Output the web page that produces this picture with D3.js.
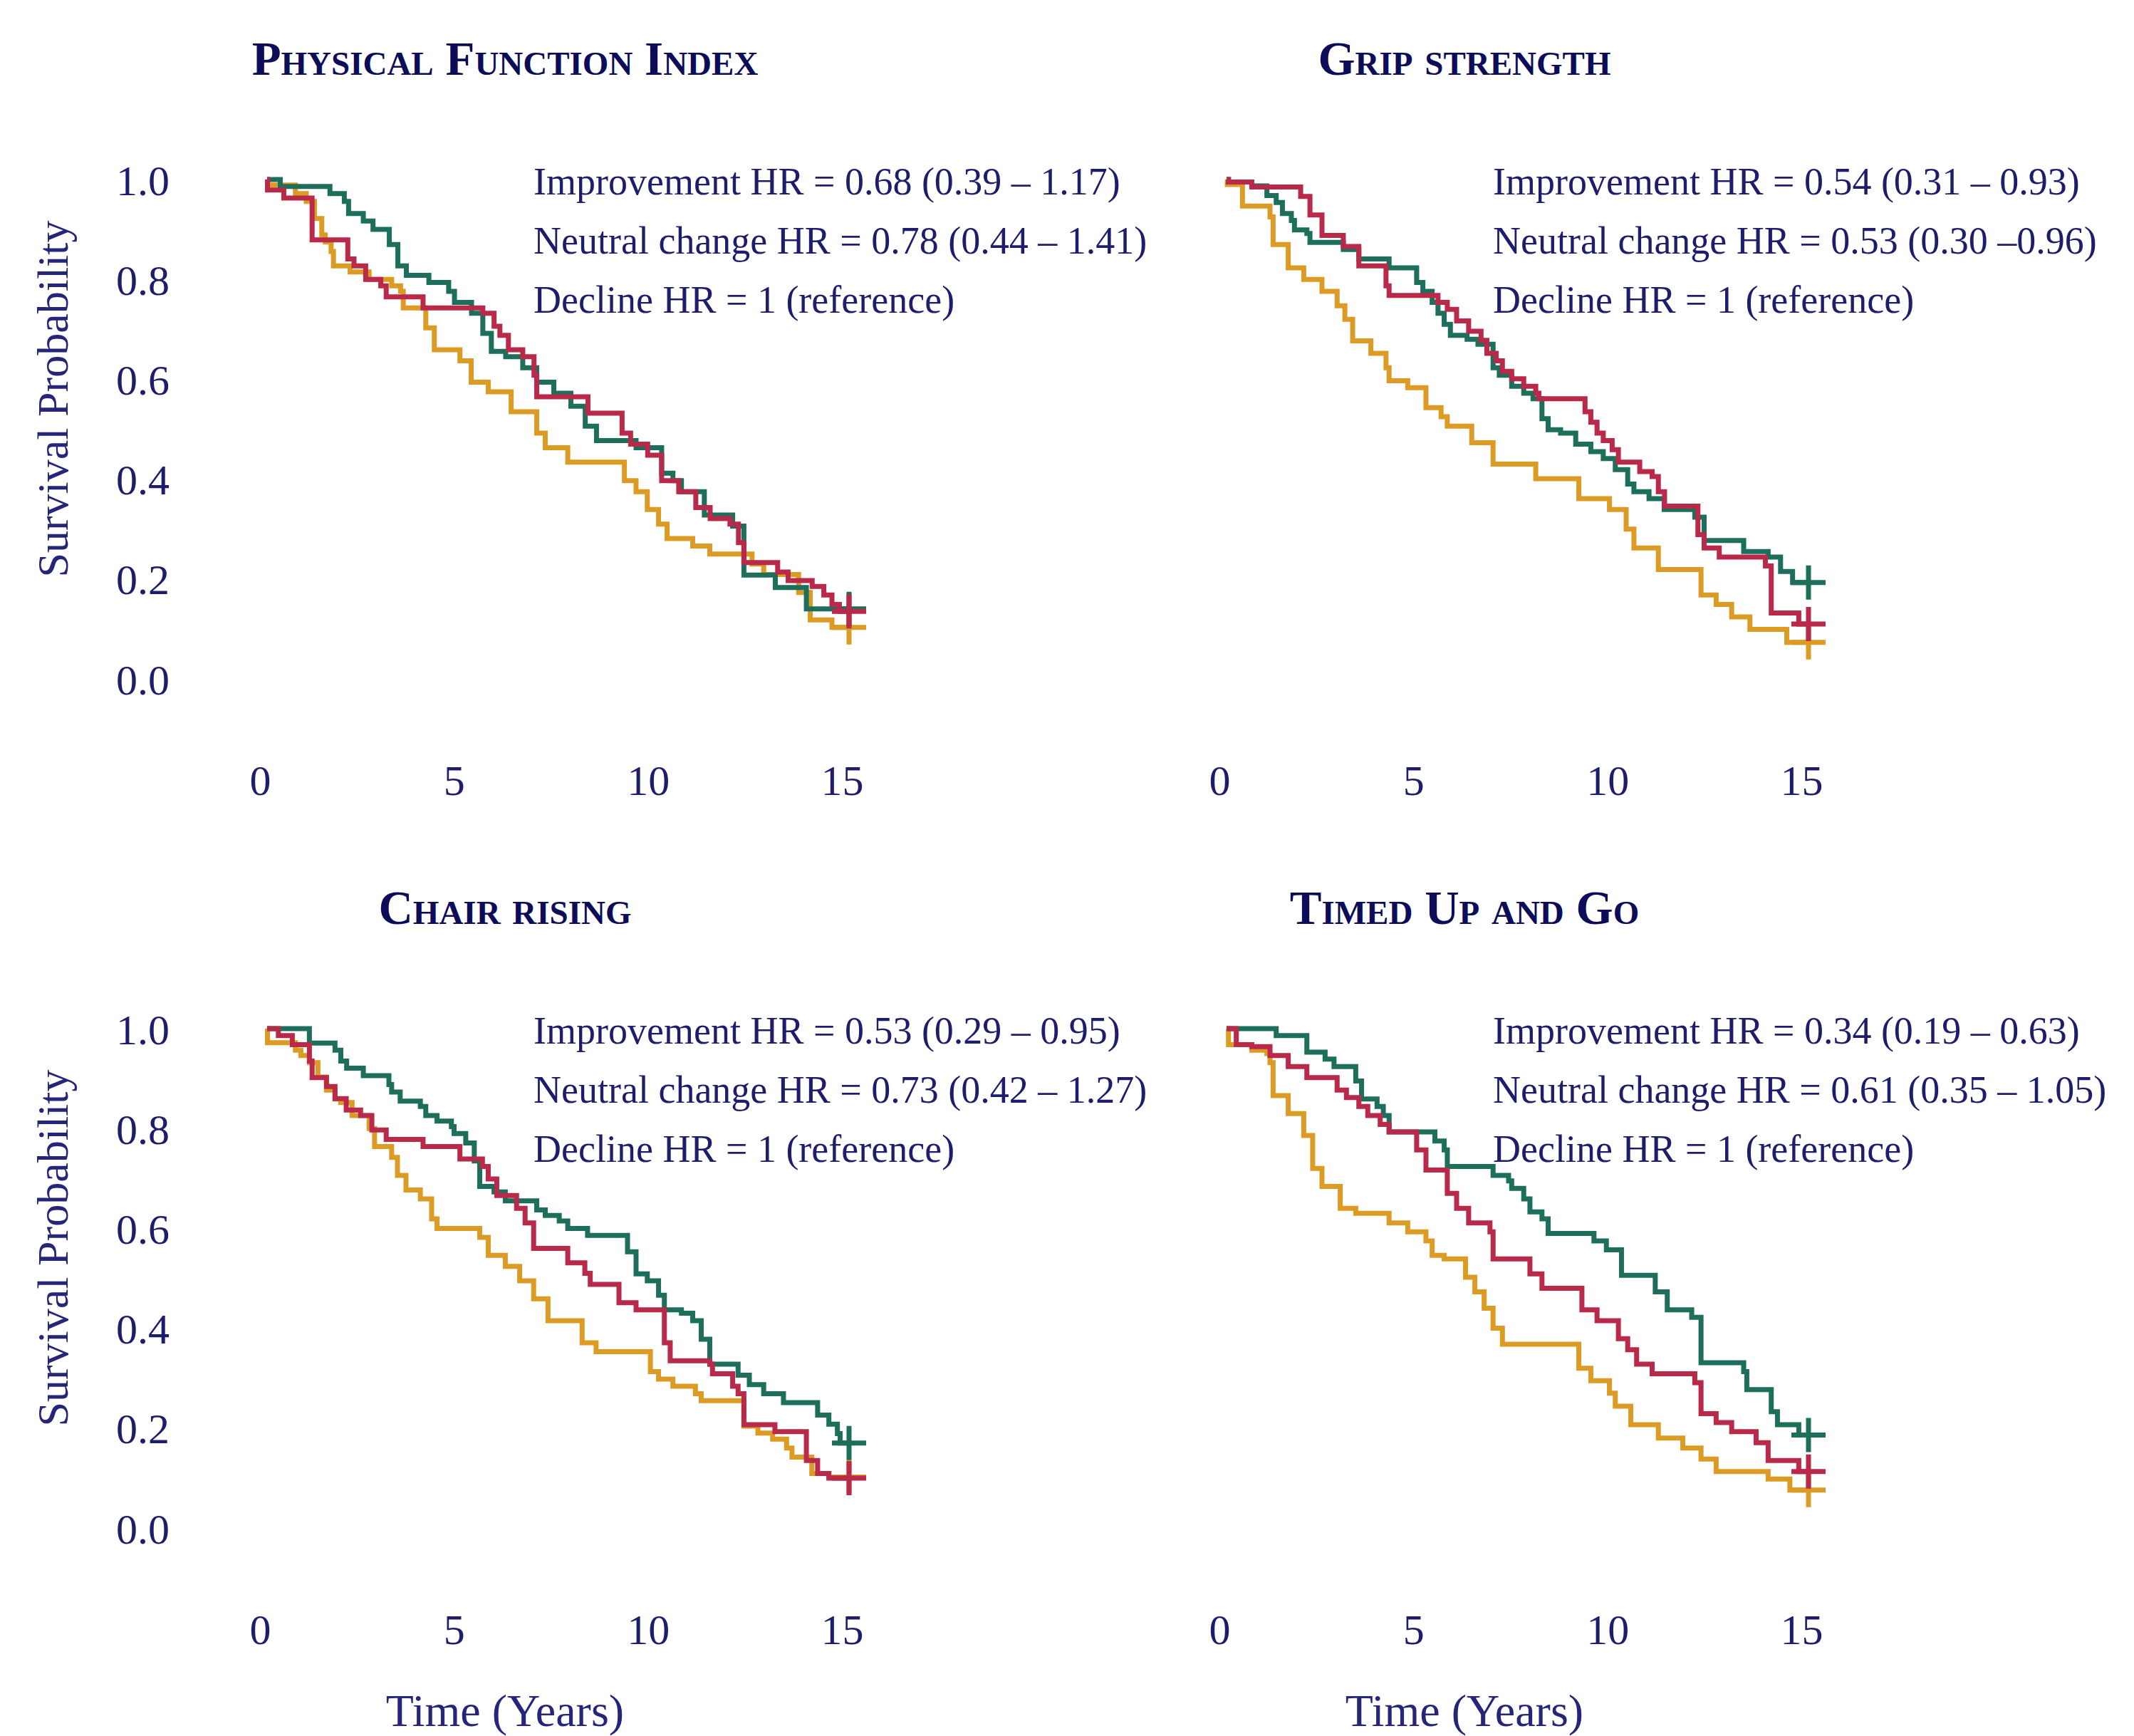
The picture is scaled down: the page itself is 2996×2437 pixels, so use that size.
<!DOCTYPE html>
<head>
<meta charset="utf-8">
<style>

body {
  margin: 0;
  background: #fff;
}

svg text {
  font-family: "Liberation Serif", "Times New Roman", serif;
}

svg .tick text {
  fill: #1d1d6b;
  font-size: 60px;
}

svg .curve {
  fill: none;
  stroke-width: 7px;
}

svg .title {
  font-weight: bold;
  font-variant: small-caps;
  font-size: 67px;
  fill: #0c0c58;
}

svg .hr {
  font-size: 54px;
  fill: #1d1d6b;
}

svg .axis-title {
  fill: #25257a;
}

</style>
</head>

<body>
<script src="https://cdn.jsdelivr.net/npm/d3@7"></script>

<script>
  // panels, left to right, top to bottom
  var panelTitles = ["Physical Function Index", "Grip strength", "Chair rising", "Timed Up and Go"];
  var panelCol = [0, 1, 0, 1];
  var panelRow = [0, 0, 1, 1];

  var groups = ["Improvement", "Neutral change", "Decline"];
  var groupColors = ["#1d6e5a", "#b8294a", "#dc9b24"];

  var hrLabels = [
    ["Improvement HR = 0.68 (0.39 – 1.17)", "Neutral change HR = 0.78 (0.44 – 1.41)", "Decline HR = 1 (reference)"],
    ["Improvement HR = 0.54 (0.31 – 0.93)", "Neutral change HR = 0.53 (0.30 –0.96)", "Decline HR = 1 (reference)"],
    ["Improvement HR = 0.53 (0.29 – 0.95)", "Neutral change HR = 0.73 (0.42 – 1.27)", "Decline HR = 1 (reference)"],
    ["Improvement HR = 0.34 (0.19 – 0.63)", "Neutral change HR = 0.61 (0.35 – 1.05)", "Decline HR = 1 (reference)"]
  ];

  var xTicks = [0, 5, 10, 15];
  var yTicks = [0, 0.2, 0.4, 0.6, 0.8, 1.0];

  // Kaplan-Meier steps [years, survival]
  var pfiImprove = [[0,1],[0.34,0.986],[1.62,0.972],[1.99,0.956],[2.1,0.932],[2.48,0.917],[2.73,0.9],[3.15,0.87],[3.37,0.827],[3.59,0.808],[4.17,0.794],[4.68,0.776],[4.83,0.754],[5.27,0.732],[5.56,0.692],[5.78,0.656],[6.15,0.645],[6.59,0.623],[6.95,0.594],[7.39,0.572],[7.83,0.546],[8.2,0.506],[8.49,0.477],[9.51,0.463],[10.17,0.412],[10.46,0.397],[10.68,0.375],[11.27,0.328],[12.0,0.306],[12.29,0.208],[13.1,0.183],[13.9,0.14],[15,0.14]];
  var pfiNeutral = [[0,1],[0.01,0.979],[0.43,0.963],[1.16,0.879],[2.08,0.841],[2.24,0.827],[2.54,0.8],[2.93,0.787],[3.07,0.765],[4.02,0.743],[5.56,0.732],[5.85,0.706],[6.0,0.688],[6.22,0.659],[6.59,0.645],[6.88,0.608],[6.95,0.565],[8.27,0.532],[9.15,0.492],[9.37,0.47],[9.81,0.448],[10.17,0.397],[10.61,0.375],[11.05,0.343],[11.42,0.321],[11.93,0.31],[12.15,0.273],[12.29,0.233],[13.16,0.214],[13.43,0.197],[14.05,0.185],[14.35,0.168],[14.56,0.149],[14.75,0.135],[15,0.135]];
  var pfiDecline = [[0,1],[0.02,0.989],[0.73,0.972],[1.01,0.956],[1.22,0.922],[1.41,0.889],[1.5,0.875],[1.65,0.856],[1.71,0.827],[2.14,0.815],[2.63,0.8],[3.21,0.787],[3.44,0.776],[3.51,0.743],[4.09,0.703],[4.31,0.659],[4.97,0.637],[5.26,0.594],[5.7,0.575],[6.29,0.535],[6.95,0.492],[7.17,0.463],[7.75,0.434],[9.21,0.397],[9.51,0.375],[9.8,0.339],[10.09,0.31],[10.31,0.281],[10.97,0.266],[11.41,0.25],[12.5,0.23],[12.8,0.209],[13.7,0.173],[14.0,0.118],[14.56,0.103],[15,0.103]];

  var gripImprove = [[0,1],[0.05,0.995],[0.65,0.987],[1.04,0.968],[1.28,0.954],[1.44,0.932],[1.67,0.918],[1.75,0.899],[2.07,0.892],[2.15,0.874],[3.01,0.86],[3.41,0.841],[4.19,0.823],[4.9,0.794],[5.06,0.776],[5.3,0.754],[5.45,0.732],[5.61,0.71],[5.77,0.688],[6.2,0.68],[6.48,0.67],[6.87,0.623],[7.03,0.608],[7.35,0.586],[7.66,0.572],[7.9,0.561],[8.13,0.521],[8.29,0.499],[8.61,0.492],[9.0,0.47],[9.39,0.455],[9.71,0.441],[10.02,0.419],[10.34,0.39],[10.5,0.375],[10.89,0.361],[11.28,0.339],[12.07,0.324],[12.31,0.277],[13.33,0.255],[13.96,0.244],[14.28,0.215],[14.59,0.193],[15,0.193]];
  var gripNeutral = [[0,1],[0.05,0.995],[0.65,0.985],[1.91,0.966],[2.15,0.929],[2.46,0.888],[3.01,0.866],[3.41,0.827],[4.11,0.787],[4.19,0.768],[5.45,0.754],[5.69,0.74],[5.93,0.717],[6.24,0.696],[6.56,0.678],[6.71,0.652],[6.95,0.637],[7.11,0.616],[7.35,0.601],[7.66,0.586],[7.97,0.572],[8.05,0.561],[9.24,0.535],[9.39,0.514],[9.55,0.492],[9.71,0.477],[9.94,0.459],[10.1,0.434],[10.65,0.415],[10.97,0.405],[11.13,0.375],[11.29,0.346],[12.15,0.289],[12.31,0.262],[12.7,0.244],[13.89,0.226],[14.04,0.132],[14.75,0.11],[15,0.11]];
  var gripDecline = [[0,1],[0.02,0.99],[0.41,0.947],[1.12,0.925],[1.2,0.87],[1.59,0.823],[1.99,0.8],[2.46,0.776],[2.85,0.747],[3.05,0.72],[3.25,0.677],[3.72,0.652],[4.11,0.623],[4.19,0.597],[4.67,0.583],[5.14,0.543],[5.53,0.525],[5.69,0.506],[6.32,0.473],[6.87,0.43],[7.97,0.401],[9.08,0.361],[9.87,0.339],[10.3,0.3],[10.5,0.262],[11.13,0.219],[12.23,0.168],[12.62,0.149],[13.02,0.124],[13.49,0.099],[14.44,0.073],[15,0.073]];

  var chairImprove = [[0,1],[1.09,0.971],[1.75,0.957],[1.9,0.935],[2.05,0.921],[2.48,0.906],[3.14,0.888],[3.21,0.873],[3.43,0.855],[3.95,0.844],[4.09,0.826],[4.38,0.815],[4.75,0.804],[4.82,0.79],[5.12,0.771],[5.34,0.735],[5.48,0.684],[5.85,0.673],[6.14,0.655],[6.95,0.637],[7.17,0.626],[7.53,0.615],[7.75,0.6],[8.26,0.586],[9.29,0.553],[9.51,0.509],[9.8,0.495],[10.09,0.466],[10.24,0.437],[10.68,0.43],[10.97,0.415],[11.19,0.378],[11.41,0.328],[12.14,0.306],[12.43,0.287],[12.8,0.269],[13.31,0.251],[14.19,0.226],[14.48,0.208],[14.7,0.189],[14.77,0.17],[15,0.17]];
  var chairNeutral = [[0,1],[0.29,0.986],[0.65,0.968],[1.09,0.935],[1.16,0.902],[1.53,0.884],[1.75,0.86],[2.04,0.837],[2.41,0.826],[2.7,0.797],[3.07,0.778],[4.02,0.764],[4.97,0.739],[5.55,0.724],[5.7,0.699],[5.92,0.666],[6.43,0.64],[6.65,0.611],[6.87,0.56],[7.75,0.531],[8.19,0.51],[8.33,0.488],[9.07,0.451],[9.51,0.437],[10.24,0.371],[10.39,0.335],[11.41,0.328],[11.48,0.309],[12.0,0.284],[12.14,0.269],[12.29,0.207],[13.09,0.193],[13.9,0.135],[14.19,0.109],[14.48,0.1],[15,0.1]];
  var chairDecline = [[0,1],[0.01,0.972],[0.73,0.957],[0.87,0.946],[1.09,0.932],[1.31,0.903],[1.53,0.877],[1.75,0.859],[1.9,0.852],[2.19,0.826],[2.63,0.8],[2.77,0.764],[3.21,0.742],[3.36,0.706],[3.58,0.677],[3.95,0.659],[4.24,0.619],[4.38,0.6],[5.48,0.582],[5.7,0.546],[6.14,0.524],[6.51,0.495],[6.87,0.459],[7.24,0.415],[8.12,0.371],[8.48,0.353],[9.88,0.313],[10.09,0.298],[10.46,0.284],[11.04,0.269],[11.19,0.255],[12.29,0.204],[12.65,0.19],[13.03,0.178],[13.39,0.16],[13.53,0.142],[14.04,0.109],[14.48,0.102],[15,0.102]];

  var tugImprove = [[0,1],[1.28,0.986],[2.07,0.953],[2.54,0.939],[2.77,0.924],[3.33,0.895],[3.48,0.859],[3.88,0.844],[4.04,0.826],[4.19,0.793],[5.37,0.775],[5.61,0.757],[5.69,0.724],[6.87,0.706],[7.27,0.695],[7.35,0.68],[7.66,0.659],[7.82,0.633],[8.13,0.619],[8.29,0.59],[9.47,0.575],[9.79,0.557],[10.18,0.506],[11.05,0.473],[11.36,0.437],[11.99,0.422],[12.23,0.331],[13.33,0.313],[13.41,0.277],[14.04,0.233],[14.2,0.207],[14.75,0.186],[15,0.186]];
  var tugNeutral = [[0,1],[0.25,0.968],[0.65,0.964],[1.12,0.946],[1.59,0.924],[2.07,0.902],[2.85,0.877],[3.09,0.862],[3.41,0.844],[3.64,0.826],[3.96,0.808],[4.19,0.793],[4.9,0.757],[5.14,0.717],[5.69,0.67],[5.93,0.64],[6.24,0.611],[6.79,0.593],[6.87,0.539],[7.82,0.509],[8.13,0.48],[9.16,0.437],[9.55,0.415],[10.1,0.379],[10.34,0.357],[10.57,0.328],[10.97,0.309],[12.07,0.291],[12.23,0.229],[12.62,0.211],[13.02,0.193],[13.65,0.171],[13.96,0.135],[14.75,0.113],[15,0.113]];
  var tugDecline = [[0,1],[0.05,0.968],[0.65,0.957],[1.04,0.95],[1.12,0.932],[1.2,0.866],[1.59,0.83],[1.99,0.786],[2.22,0.72],[2.46,0.684],[2.93,0.64],[3.33,0.63],[4.19,0.611],[4.67,0.593],[5.14,0.575],[5.3,0.546],[5.61,0.539],[6.16,0.502],[6.4,0.473],[6.64,0.44],[6.87,0.4],[7.11,0.368],[9.08,0.32],[9.39,0.295],[9.87,0.27],[10.02,0.244],[10.42,0.207],[11.13,0.18],[11.76,0.16],[12.23,0.138],[12.62,0.113],[13.96,0.098],[14.52,0.076],[15,0.076]];

  // per panel: improvement, neutral, decline
  var panelCurves = [
    [pfiImprove, pfiNeutral, pfiDecline],
    [gripImprove, gripNeutral, gripDecline],
    [chairImprove, chairNeutral, chairDecline],
    [tugImprove, tugNeutral, tugDecline]
  ];

  var width = 2996,
      height = 2437,
      colStep = 1347,      // horizontal offset between panels
      rowStep = 1192,      // vertical offset between panels
      plotLeft = 375,
      plotRight = 1192,
      plotTop = 252,
      plotBottom = 953,
      titleCenter = 709,   // titles sit a bit left of the plot centre
      crossHalf = 24;      // half size of censor "+"

  var svg = d3.select("body")
    .append("svg")
      .attr("width", width)
      .attr("height", height);

  var drawOrder = [2, 0, 1];   // decline underneath, neutral on top

  panelTitles.forEach(function (title, p) {
    var dx = panelCol[p] * colStep,
        dy = panelRow[p] * rowStep;

    var x = d3.scaleLinear().domain([0, 15]).range([plotLeft + dx, plotRight + dx]);
    var y = d3.scaleLinear().domain([0, 1]).range([plotBottom + dy, plotTop + dy]);

    // title
    svg.append("text")
        .classed("title", true)
        .attr("x", titleCenter + dx)
        .attr("y", 105 + dy)
        .style("text-anchor", "middle")
        .text(title);

    // x axis (labels only)
    var xAxis = d3.axisBottom(x)
        .tickValues(xTicks)
        .tickFormat(d3.format("d"))
        .tickSize(0)
        .tickPadding(0);

    var xa = svg.append("g")
        .attr("transform", "translate(-10," + (1095 + dy) + ")")
        .call(xAxis);
    xa.select(".domain").remove();
    xa.selectAll(".tick text").attr("dy", "0.35em");

    // y axis and titles only on the left column
    if (panelCol[p] === 0) {
      var yAxis = d3.axisLeft(y)
          .tickValues(yTicks)
          .tickFormat(d3.format(".1f"))
          .tickSize(0)
          .tickPadding(0);

      var ya = svg.append("g")
          .attr("transform", "translate(238,0)")
          .call(yAxis);
      ya.select(".domain").remove();
      ya.selectAll(".tick text").attr("dy", "0.35em");

      svg.append("text")
          .classed("axis-title", true)
          .attr("transform", "translate(95," + (560 + dy) + ") rotate(-90)")
          .style("text-anchor", "middle")
          .style("font-size", "62px")
          .text("Survival Probability");
    }

    if (panelRow[p] === 1) {
      svg.append("text")
          .classed("axis-title", true)
          .attr("x", titleCenter + dx)
          .attr("y", 2423)
          .style("text-anchor", "middle")
          .style("font-size", "64px")
          .text("Time (Years)");
    }

    // hazard ratio notes
    hrLabels[p].forEach(function (s, i) {
      svg.append("text")
          .classed("hr", true)
          .attr("x", 749 + dx)
          .attr("y", 273 + dy + i * 83)
          .text(s);
    });

    // survival curves
    var step = d3.line()
        .curve(d3.curveStepAfter)
        .x(function (d) { return x(d[0]); })
        .y(function (d) { return y(d[1]); });

    drawOrder.forEach(function (g) {
      var data = panelCurves[p][g];
      var last = data[data.length - 1];

      svg.append("path")
          .classed("curve", true)
          .attr("d", step(data))
          .style("stroke", groupColors[g]);

      // censor mark at end of follow-up
      var cx = x(last[0]), cy = y(last[1]);
      svg.append("path")
          .classed("curve", true)
          .attr("d", "M" + (cx - crossHalf) + "," + cy + "H" + (cx + crossHalf) +
                     "M" + cx + "," + (cy - crossHalf) + "V" + (cy + crossHalf))
          .style("stroke", groupColors[g]);
    });
  });

</script>
</body>
</html>
